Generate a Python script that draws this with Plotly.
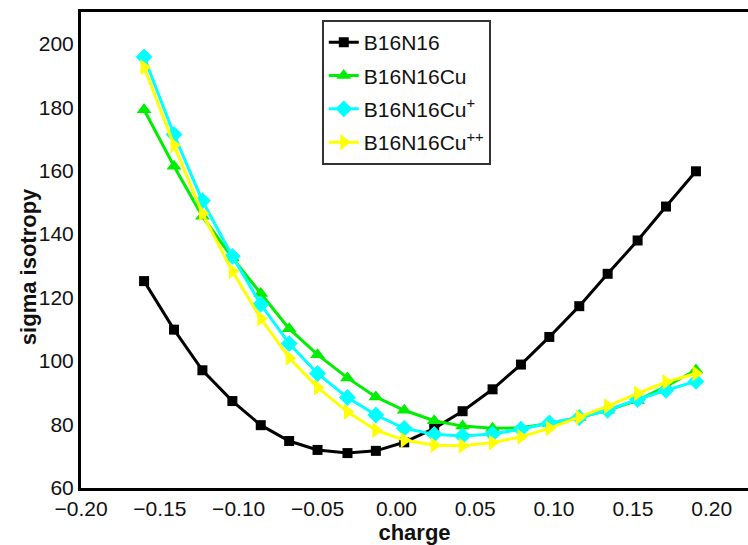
import plotly.graph_objects as go

# Charge values (same grid for every series)
charge = [-0.160, -0.141, -0.123, -0.104, -0.086, -0.068, -0.050, -0.031, -0.013, 0.005,
          0.024, 0.042, 0.061, 0.079, 0.097, 0.116, 0.134, 0.153, 0.171, 0.190]

# Sigma isotropy for each cluster
b16n16 = [125.2, 109.9, 97.1, 87.4, 79.8, 74.8, 72.0, 71.0, 71.7, 74.4,
          78.8, 84.2, 91.1, 98.9, 107.6, 117.3, 127.5, 138.0, 148.7, 159.8]
b16n16cu = [179.2, 161.4, 145.6, 132.5, 121.3, 110.2, 102.0, 94.7, 88.7, 84.5,
            81.2, 79.5, 78.8, 79.0, 80.3, 82.2, 84.5, 87.6, 92.0, 97.2]
b16n16cu_p = [195.8, 171.4, 150.5, 133.0, 117.9, 105.5, 96.1, 88.5, 83.0, 78.8,
              76.9, 76.4, 77.0, 78.5, 80.5, 82.2, 84.5, 87.9, 90.8, 93.6]
b16n16cu_pp = [192.6, 168.0, 146.5, 128.3, 113.4, 101.0, 91.7, 84.0, 78.2, 75.1,
               73.5, 73.3, 74.3, 76.1, 78.8, 82.3, 85.8, 89.8, 93.4, 96.1]

series_names = ["B16N16", "B16N16Cu", "B16N16Cu<sup>+</sup>", "B16N16Cu<sup>++</sup>"]
x_ticks = [-0.20, -0.15, -0.10, -0.05, 0.00, 0.05, 0.10, 0.15, 0.20]
y_ticks = [60, 80, 100, 120, 140, 160, 180, 200]

styles = [
    dict(color="#000000", symbol="square", size=10),
    dict(color="#00ee00", symbol="triangle-up", size=13),
    dict(color="#00ffff", symbol="diamond", size=13),
    dict(color="#ffff00", symbol="triangle-right", size=14),
]

fig = go.Figure()
for i, (name, values, st) in enumerate(zip(series_names,
                                           [b16n16, b16n16cu, b16n16cu_p, b16n16cu_pp],
                                           styles)):
    fig.add_trace(go.Scatter(
        x=charge, y=values, name=name, mode="lines+markers",
        legendgroup=f"g{i}",
        line=dict(color=st["color"], width=3),
        marker=dict(color=st["color"], symbol=st["symbol"], size=st["size"]),
    ))

font_family = "Liberation Sans, Arial, sans-serif"

fig.update_layout(
    width=748, height=545,
    margin=dict(l=81, r=0, t=12, b=57),
    paper_bgcolor="white", plot_bgcolor="white",
    font=dict(family=font_family, color="#111111"),
    showlegend=True,
    legend=dict(
        x=0.361, y=0.983, xanchor="left", yanchor="top",
        bordercolor="#333333", borderwidth=2, bgcolor="white",
        font=dict(size=21, color="#111111"),
        tracegroupgap=3,
    ),
    xaxis=dict(
        range=[-0.2, 0.223], tickvals=x_ticks, tickformat=".2f",
        showgrid=False, zeroline=False,
        showline=True, linecolor="#000000", linewidth=3, mirror=True,
        ticks="", tickfont=dict(size=21, color="#111111"),
        title=dict(text="<b>charge</b>", font=dict(size=22, color="#111111"), standoff=10),
    ),
    yaxis=dict(
        range=[60, 210], tickvals=y_ticks,
        showgrid=False, zeroline=False,
        showline=True, linecolor="#000000", linewidth=3,
        ticks="", tickfont=dict(size=21, color="#111111"),
    ),
    annotations=[dict(
        text="<b>sigma isotropy</b>", textangle=-90,
        xref="paper", yref="paper", x=-0.0795, y=0.466,
        xanchor="center", yanchor="middle", showarrow=False,
        font=dict(size=22, color="#111111"),
    )],
)

fig.write_html("out.html")
